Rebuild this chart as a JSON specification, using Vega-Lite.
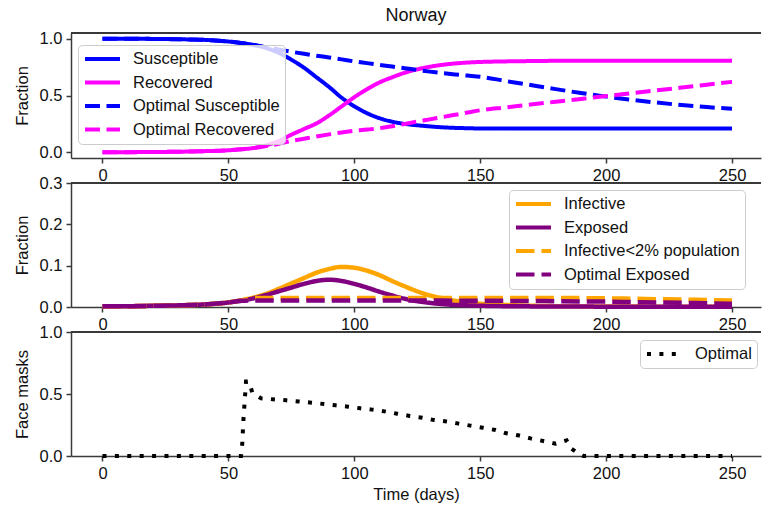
{
  "$schema": "https://vega.github.io/schema/vega-lite/v6.json",
  "padding": {"left": 14, "top": 6, "right": 0, "bottom": 0},
  "background": "white",
  "bounds": "flush",
  "spacing": 25,
  "resolve": {"scale": {"color": "independent", "strokeDash": "independent"}, "legend": {"color": "independent", "strokeDash": "independent"}},
  "datasets": {
    "sir": [
      {"t": 0, "Susceptible": 1.0, "Recovered": 0.0, "Optimal Susceptible": 1.0, "Optimal Recovered": 0.0},
      {"t": 10, "Susceptible": 1.0, "Recovered": 0.001, "Optimal Susceptible": 1.0, "Optimal Recovered": 0.001},
      {"t": 20, "Susceptible": 0.998, "Recovered": 0.003, "Optimal Susceptible": 0.998, "Optimal Recovered": 0.003},
      {"t": 30, "Susceptible": 0.995, "Recovered": 0.005, "Optimal Susceptible": 0.995, "Optimal Recovered": 0.005},
      {"t": 40, "Susceptible": 0.99, "Recovered": 0.01, "Optimal Susceptible": 0.99, "Optimal Recovered": 0.01},
      {"t": 50, "Susceptible": 0.975, "Recovered": 0.018, "Optimal Susceptible": 0.975, "Optimal Recovered": 0.018},
      {"t": 55, "Susceptible": 0.962, "Recovered": 0.026, "Optimal Susceptible": 0.962, "Optimal Recovered": 0.026},
      {"t": 60, "Susceptible": 0.945, "Recovered": 0.038, "Optimal Susceptible": 0.945, "Optimal Recovered": 0.038},
      {"t": 65, "Susceptible": 0.918, "Recovered": 0.062, "Optimal Susceptible": 0.925, "Optimal Recovered": 0.055},
      {"t": 70, "Susceptible": 0.875, "Recovered": 0.1, "Optimal Susceptible": 0.905, "Optimal Recovered": 0.075},
      {"t": 75, "Susceptible": 0.815, "Recovered": 0.155, "Optimal Susceptible": 0.885, "Optimal Recovered": 0.1},
      {"t": 80, "Susceptible": 0.745, "Recovered": 0.205, "Optimal Susceptible": 0.867, "Optimal Recovered": 0.12},
      {"t": 85, "Susceptible": 0.66, "Recovered": 0.255, "Optimal Susceptible": 0.85, "Optimal Recovered": 0.14},
      {"t": 90, "Susceptible": 0.575, "Recovered": 0.325, "Optimal Susceptible": 0.835, "Optimal Recovered": 0.158},
      {"t": 95, "Susceptible": 0.48, "Recovered": 0.405, "Optimal Susceptible": 0.818, "Optimal Recovered": 0.175},
      {"t": 100, "Susceptible": 0.405, "Recovered": 0.485, "Optimal Susceptible": 0.8, "Optimal Recovered": 0.19},
      {"t": 105, "Susceptible": 0.345, "Recovered": 0.555, "Optimal Susceptible": 0.785, "Optimal Recovered": 0.2},
      {"t": 110, "Susceptible": 0.3, "Recovered": 0.615, "Optimal Susceptible": 0.77, "Optimal Recovered": 0.212},
      {"t": 115, "Susceptible": 0.27, "Recovered": 0.66, "Optimal Susceptible": 0.755, "Optimal Recovered": 0.23},
      {"t": 120, "Susceptible": 0.25, "Recovered": 0.7, "Optimal Susceptible": 0.74, "Optimal Recovered": 0.25},
      {"t": 125, "Susceptible": 0.238, "Recovered": 0.73, "Optimal Susceptible": 0.725, "Optimal Recovered": 0.27},
      {"t": 130, "Susceptible": 0.228, "Recovered": 0.753, "Optimal Susceptible": 0.71, "Optimal Recovered": 0.29},
      {"t": 135, "Susceptible": 0.22, "Recovered": 0.77, "Optimal Susceptible": 0.697, "Optimal Recovered": 0.31},
      {"t": 140, "Susceptible": 0.215, "Recovered": 0.782, "Optimal Susceptible": 0.685, "Optimal Recovered": 0.33},
      {"t": 145, "Susceptible": 0.212, "Recovered": 0.79, "Optimal Susceptible": 0.675, "Optimal Recovered": 0.35},
      {"t": 150, "Susceptible": 0.21, "Recovered": 0.795, "Optimal Susceptible": 0.665, "Optimal Recovered": 0.37},
      {"t": 160, "Susceptible": 0.21, "Recovered": 0.8, "Optimal Susceptible": 0.628, "Optimal Recovered": 0.395},
      {"t": 170, "Susceptible": 0.21, "Recovered": 0.803, "Optimal Susceptible": 0.592, "Optimal Recovered": 0.42},
      {"t": 180, "Susceptible": 0.21, "Recovered": 0.805, "Optimal Susceptible": 0.556, "Optimal Recovered": 0.445},
      {"t": 190, "Susceptible": 0.21, "Recovered": 0.805, "Optimal Susceptible": 0.522, "Optimal Recovered": 0.47},
      {"t": 200, "Susceptible": 0.21, "Recovered": 0.805, "Optimal Susceptible": 0.49, "Optimal Recovered": 0.495},
      {"t": 210, "Susceptible": 0.21, "Recovered": 0.805, "Optimal Susceptible": 0.463, "Optimal Recovered": 0.52},
      {"t": 220, "Susceptible": 0.21, "Recovered": 0.805, "Optimal Susceptible": 0.438, "Optimal Recovered": 0.545},
      {"t": 230, "Susceptible": 0.21, "Recovered": 0.805, "Optimal Susceptible": 0.416, "Optimal Recovered": 0.57},
      {"t": 240, "Susceptible": 0.21, "Recovered": 0.805, "Optimal Susceptible": 0.398, "Optimal Recovered": 0.595},
      {"t": 250, "Susceptible": 0.21, "Recovered": 0.805, "Optimal Susceptible": 0.383, "Optimal Recovered": 0.62}
    ],
    "ei": [
      {"t": 0, "Infective": 0.002, "Exposed": 0.002, "Infective<2% population": 0.002, "Optimal Exposed": 0.002},
      {"t": 10, "Infective": 0.002, "Exposed": 0.002, "Infective<2% population": 0.002, "Optimal Exposed": 0.002},
      {"t": 20, "Infective": 0.003, "Exposed": 0.003, "Infective<2% population": 0.003, "Optimal Exposed": 0.003},
      {"t": 30, "Infective": 0.004, "Exposed": 0.004, "Infective<2% population": 0.004, "Optimal Exposed": 0.004},
      {"t": 40, "Infective": 0.006, "Exposed": 0.006, "Infective<2% population": 0.006, "Optimal Exposed": 0.006},
      {"t": 50, "Infective": 0.011, "Exposed": 0.011, "Infective<2% population": 0.011, "Optimal Exposed": 0.011},
      {"t": 55, "Infective": 0.016, "Exposed": 0.015, "Infective<2% population": 0.016, "Optimal Exposed": 0.015},
      {"t": 60, "Infective": 0.023, "Exposed": 0.021, "Infective<2% population": 0.022, "Optimal Exposed": 0.016},
      {"t": 65, "Infective": 0.032, "Exposed": 0.029, "Infective<2% population": 0.022, "Optimal Exposed": 0.016},
      {"t": 70, "Infective": 0.044, "Exposed": 0.038, "Infective<2% population": 0.022, "Optimal Exposed": 0.016},
      {"t": 75, "Infective": 0.057, "Exposed": 0.047, "Infective<2% population": 0.022, "Optimal Exposed": 0.016},
      {"t": 80, "Infective": 0.07, "Exposed": 0.056, "Infective<2% population": 0.022, "Optimal Exposed": 0.016},
      {"t": 85, "Infective": 0.083, "Exposed": 0.063, "Infective<2% population": 0.022, "Optimal Exposed": 0.016},
      {"t": 90, "Infective": 0.092, "Exposed": 0.066, "Infective<2% population": 0.022, "Optimal Exposed": 0.016},
      {"t": 95, "Infective": 0.097, "Exposed": 0.063, "Infective<2% population": 0.022, "Optimal Exposed": 0.016},
      {"t": 100, "Infective": 0.095, "Exposed": 0.056, "Infective<2% population": 0.022, "Optimal Exposed": 0.016},
      {"t": 105, "Infective": 0.088, "Exposed": 0.047, "Infective<2% population": 0.022, "Optimal Exposed": 0.016},
      {"t": 110, "Infective": 0.077, "Exposed": 0.037, "Infective<2% population": 0.022, "Optimal Exposed": 0.016},
      {"t": 115, "Infective": 0.063, "Exposed": 0.028, "Infective<2% population": 0.022, "Optimal Exposed": 0.016},
      {"t": 120, "Infective": 0.05, "Exposed": 0.02, "Infective<2% population": 0.022, "Optimal Exposed": 0.016},
      {"t": 125, "Infective": 0.038, "Exposed": 0.014, "Infective<2% population": 0.022, "Optimal Exposed": 0.016},
      {"t": 130, "Infective": 0.028, "Exposed": 0.01, "Infective<2% population": 0.022, "Optimal Exposed": 0.0158},
      {"t": 135, "Infective": 0.021, "Exposed": 0.007, "Infective<2% population": 0.022, "Optimal Exposed": 0.0155},
      {"t": 140, "Infective": 0.015, "Exposed": 0.005, "Infective<2% population": 0.022, "Optimal Exposed": 0.0153},
      {"t": 145, "Infective": 0.011, "Exposed": 0.004, "Infective<2% population": 0.022, "Optimal Exposed": 0.0152},
      {"t": 150, "Infective": 0.008, "Exposed": 0.003, "Infective<2% population": 0.022, "Optimal Exposed": 0.015},
      {"t": 160, "Infective": 0.005, "Exposed": 0.002, "Infective<2% population": 0.022, "Optimal Exposed": 0.0148},
      {"t": 170, "Infective": 0.003, "Exposed": 0.0015, "Infective<2% population": 0.022, "Optimal Exposed": 0.0145},
      {"t": 180, "Infective": 0.002, "Exposed": 0.001, "Infective<2% population": 0.022, "Optimal Exposed": 0.014},
      {"t": 190, "Infective": 0.0015, "Exposed": 0.001, "Infective<2% population": 0.0215, "Optimal Exposed": 0.0135},
      {"t": 200, "Infective": 0.001, "Exposed": 0.0008, "Infective<2% population": 0.021, "Optimal Exposed": 0.013},
      {"t": 210, "Infective": 0.001, "Exposed": 0.0007, "Infective<2% population": 0.02, "Optimal Exposed": 0.012},
      {"t": 220, "Infective": 0.0008, "Exposed": 0.0006, "Infective<2% population": 0.019, "Optimal Exposed": 0.011},
      {"t": 230, "Infective": 0.0007, "Exposed": 0.0006, "Infective<2% population": 0.018, "Optimal Exposed": 0.01},
      {"t": 240, "Infective": 0.0006, "Exposed": 0.0005, "Infective<2% population": 0.0167, "Optimal Exposed": 0.009},
      {"t": 250, "Infective": 0.0005, "Exposed": 0.0005, "Infective<2% population": 0.0155, "Optimal Exposed": 0.008}
    ],
    "mask": [
      {"t": 0, "series": "Optimal", "value": 0},
      {"t": 55, "series": "Optimal", "value": 0},
      {"t": 55.5, "series": "Optimal", "value": 0.1},
      {"t": 56, "series": "Optimal", "value": 0.3},
      {"t": 56.5, "series": "Optimal", "value": 0.45},
      {"t": 57, "series": "Optimal", "value": 0.6},
      {"t": 58.2, "series": "Optimal", "value": 0.6},
      {"t": 59.5, "series": "Optimal", "value": 0.51},
      {"t": 63, "series": "Optimal", "value": 0.465},
      {"t": 68.5, "series": "Optimal", "value": 0.456},
      {"t": 73, "series": "Optimal", "value": 0.449},
      {"t": 78, "series": "Optimal", "value": 0.44},
      {"t": 83, "series": "Optimal", "value": 0.43},
      {"t": 88, "series": "Optimal", "value": 0.419},
      {"t": 92.6, "series": "Optimal", "value": 0.409},
      {"t": 97.6, "series": "Optimal", "value": 0.398},
      {"t": 102.3, "series": "Optimal", "value": 0.385},
      {"t": 107, "series": "Optimal", "value": 0.374},
      {"t": 112, "series": "Optimal", "value": 0.36},
      {"t": 117, "series": "Optimal", "value": 0.341},
      {"t": 122, "series": "Optimal", "value": 0.323},
      {"t": 127, "series": "Optimal", "value": 0.309},
      {"t": 131, "series": "Optimal", "value": 0.293},
      {"t": 136, "series": "Optimal", "value": 0.28},
      {"t": 141, "series": "Optimal", "value": 0.263},
      {"t": 146, "series": "Optimal", "value": 0.245},
      {"t": 151, "series": "Optimal", "value": 0.228},
      {"t": 156, "series": "Optimal", "value": 0.21},
      {"t": 160, "series": "Optimal", "value": 0.185},
      {"t": 165, "series": "Optimal", "value": 0.167},
      {"t": 170, "series": "Optimal", "value": 0.142},
      {"t": 175, "series": "Optimal", "value": 0.121},
      {"t": 180, "series": "Optimal", "value": 0.099},
      {"t": 184.3, "series": "Optimal", "value": 0.126},
      {"t": 186.2, "series": "Optimal", "value": 0.059},
      {"t": 189.6, "series": "Optimal", "value": 0.013},
      {"t": 191, "series": "Optimal", "value": 0},
      {"t": 250, "series": "Optimal", "value": 0}
    ]
  },
  "vconcat": [
    {
      "width": 690,
      "height": 125,
      "title": {"text": "Norway", "fontSize": 18, "fontWeight": "normal", "anchor": "middle", "baseline": "alphabetic", "offset": -8, "color": "#111111"},
      "data": {"name": "sir"},
      "transform": [{"fold": ["Susceptible", "Recovered", "Optimal Susceptible", "Optimal Recovered"], "as": ["series", "value"]}],
      "layer": [
        {
          "mark": {"type": "rule", "color": "#3a3a3a", "strokeWidth": 1.5},
          "encoding": {"y": {"datum": 1.05}}
        },
        {
          "mark": {"type": "line", "strokeWidth": 4, "interpolate": "monotone"},
          "encoding": {
            "x": {"field": "t", "type": "quantitative", "scale": {"domain": [-12.5, 261.5], "nice": false, "zero": false}, "axis": {"values": [0, 50, 100, 150, 200, 250], "title": null}},
            "y": {"field": "value", "type": "quantitative", "scale": {"domain": [-0.05, 1.05], "nice": false, "zero": false}, "axis": {"values": [0, 0.5, 1], "format": ".1f", "title": "Fraction"}},
            "color": {"field": "series", "type": "nominal", "scale": {"domain": ["Susceptible", "Recovered", "Optimal Susceptible", "Optimal Recovered"], "range": ["#0000ff", "#ff00ff", "#0000ff", "#ff00ff"]},
              "legend": {"orient": "none", "legendX": 7, "legendY": 12, "title": null, "labelExpr": "datum.label + '\u00a0'"}},
            "strokeDash": {"field": "series", "type": "nominal", "scale": {"domain": ["Susceptible", "Recovered", "Optimal Susceptible", "Optimal Recovered"], "range": [[1, 0], [1, 0], [15, 6.5], [15, 6.5]]},
              "legend": {"orient": "none", "legendX": 7, "legendY": 12, "title": null, "labelExpr": "datum.label + '\u00a0'"}}
          }
        }
      ]
    },
    {
      "width": 690,
      "height": 124,
      "data": {"name": "ei"},
      "transform": [{"fold": ["Infective", "Exposed", "Infective<2% population", "Optimal Exposed"], "as": ["series", "value"]}],
      "layer": [
        {
          "mark": {"type": "rule", "color": "#3a3a3a", "strokeWidth": 1.5},
          "encoding": {"y": {"datum": 0.3}}
        },
        {
          "mark": {"type": "line", "strokeWidth": 4.5, "interpolate": "monotone"},
          "encoding": {
            "x": {"field": "t", "type": "quantitative", "scale": {"domain": [-12.5, 261.5], "nice": false, "zero": false}, "axis": {"values": [0, 50, 100, 150, 200, 250], "title": null}},
            "y": {"field": "value", "type": "quantitative", "scale": {"domain": [0, 0.3], "nice": false}, "axis": {"values": [0, 0.1, 0.2, 0.3], "format": ".1f", "title": "Fraction"}},
            "color": {"field": "series", "type": "nominal", "scale": {"domain": ["Infective", "Exposed", "Infective<2% population", "Optimal Exposed"], "range": ["#ffa500", "#800080", "#ffa500", "#800080"]},
              "legend": {"orient": "none", "legendX": 438, "legendY": 7, "title": null, "labelExpr": "datum.label + '\u00a0\u00a0\u00a0'"}},
            "strokeDash": {"field": "series", "type": "nominal", "scale": {"domain": ["Infective", "Exposed", "Infective<2% population", "Optimal Exposed"], "range": [[1, 0], [1, 0], [18.5, 7], [18.5, 7]]},
              "legend": {"orient": "none", "legendX": 438, "legendY": 7, "title": null, "labelExpr": "datum.label + '\u00a0\u00a0\u00a0'"}}
          }
        }
      ]
    },
    {
      "width": 690,
      "height": 124,
      "data": {"name": "mask"},
      "layer": [
        {
          "mark": {"type": "rule", "color": "#3a3a3a", "strokeWidth": 1.5},
          "encoding": {"y": {"datum": 1}}
        },
        {
          "mark": {"type": "line", "strokeWidth": 4, "strokeCap": "butt"},
          "encoding": {
            "x": {"field": "t", "type": "quantitative", "scale": {"domain": [-12.5, 261.5], "nice": false, "zero": false}, "axis": {"values": [0, 50, 100, 150, 200, 250], "title": "Time (days)"}},
            "y": {"field": "value", "type": "quantitative", "scale": {"domain": [0, 1], "nice": false}, "axis": {"values": [0, 0.5, 1], "format": ".1f", "title": "Face masks"}},
            "color": {"field": "series", "type": "nominal", "scale": {"domain": ["Optimal"], "range": ["#000000"]},
              "legend": {"orient": "none", "legendX": 569, "legendY": 8, "title": null}},
            "strokeDash": {"field": "series", "type": "nominal", "scale": {"domain": ["Optimal"], "range": [[4, 8.4]]},
              "legend": {"orient": "none", "legendX": 569, "legendY": 8, "title": null}}
          }
        }
      ]
    }
  ],
  "config": {
    "font": "Liberation Sans",
    "view": {"stroke": null},
    "axis": {
      "domainColor": "#3a3a3a", "domainWidth": 1.5,
      "tickColor": "#3a3a3a", "tickWidth": 1.5, "tickSize": 5,
      "labelFontSize": 16.5, "labelColor": "#111111", "labelPadding": 4, "labelFlush": false,
      "titleFontSize": 16.5, "titleFontWeight": "normal", "titleColor": "#111111",
      "grid": false
    },
    "axisY": {"titlePadding": 9},
    "axisX": {"titlePadding": 5},
    "legend": {
      "labelFontSize": 16.5, "labelColor": "#111111", "labelOffset": 11, "labelLimit": 400,
      "symbolType": "stroke", "symbolSize": 1225, "symbolStrokeWidth": 4,
      "clipHeight": 18, "rowPadding": 5.5, "padding": 5,
      "fillColor": "rgba(255,255,255,0.8)", "strokeColor": "#cccccc", "cornerRadius": 4
    }
  }
}
